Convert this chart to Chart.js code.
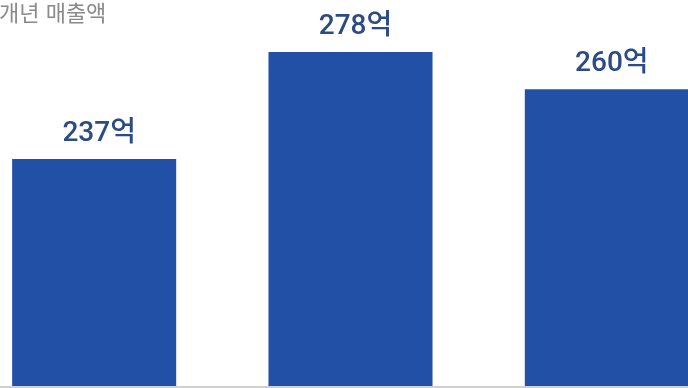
<!DOCTYPE html>
<html lang="ko">
<head>
<meta charset="utf-8">
<script src="https://cdn.jsdelivr.net/npm/chart.js@4.4.1/dist/chart.umd.min.js"></script>
<style>
    html, body { margin: 0; padding: 0; background: #fff; }
    body { width: 688px; height: 388px; overflow: hidden; position: relative; }
    .title {
        position: absolute; left: -1px; top: -5px; z-index: 2;
        font-family: "Noto Sans CJK KR", "Noto Sans", sans-serif;
        font-size: 22px; color: #8a8a8a; letter-spacing: 0;
    }
    .wrap { position: absolute; left: -34px; top: 0; width: 769px; height: 388px; }
</style>
</head>
<body>
<div class="title">개년 매출액</div>
<div class="wrap"><canvas id="chart"></canvas></div>
<script>
// 연도 (축은 숨김)
const years = ['2021', '2022', '2023'];
// 막대 위에 표시되는 매출액 (억)
const sales = [237, 278, 260];
// 막대 높이 (축 최대값 대비 %, 그림에서 읽은 값)
const barHeights = [58.8, 86.5, 76.9];

const barColor = '#2350a7';
const labelColor = '#2b4a86';

// 막대 위에 "237억" 같은 라벨 표시
const valueLabels = {
    id: 'valueLabels',
    afterDatasetsDraw(chart) {
        const ctx = chart.ctx;
        const meta = chart.getDatasetMeta(0);
        ctx.save();
        ctx.font = '500 28px Roboto, "Noto Sans CJK KR", sans-serif';
        ctx.fillStyle = labelColor;
        ctx.textAlign = 'center';
        ctx.textBaseline = 'alphabetic';
        meta.data.forEach((bar, i) => {
            ctx.fillText(sales[i] + '억', bar.x + 5, bar.y - 18);
        });
        ctx.restore();
    }
};

// 아래 기준선
const baseLine = {
    id: 'baseLine',
    afterDraw(chart) {
        const ctx = chart.ctx;
        ctx.save();
        ctx.strokeStyle = '#d0d0d0';
        ctx.lineWidth = 2;
        ctx.beginPath();
        ctx.moveTo(0, chart.chartArea.bottom + 1);
        ctx.lineTo(chart.width, chart.chartArea.bottom + 1);
        ctx.stroke();
        ctx.restore();
    }
};

new Chart(document.getElementById('chart'), {
    type: 'bar',
    data: {
        labels: years,
        datasets: [{
            data: barHeights,
            backgroundColor: barColor,
            borderWidth: 0,
            categoryPercentage: 0.8,
            barPercentage: 0.8,
        }],
    },
    options: {
        responsive: true,
        maintainAspectRatio: false,
        animation: false,
        layout: { padding: { top: 0, bottom: 2, left: 0, right: 0 } },
        plugins: { legend: { display: false }, tooltip: { enabled: false } },
        scales: {
            x: { display: false },
            y: { display: false, min: 0, max: 100 },
        },
    },
    plugins: [valueLabels, baseLine],
});
</script>
</body>
</html>
